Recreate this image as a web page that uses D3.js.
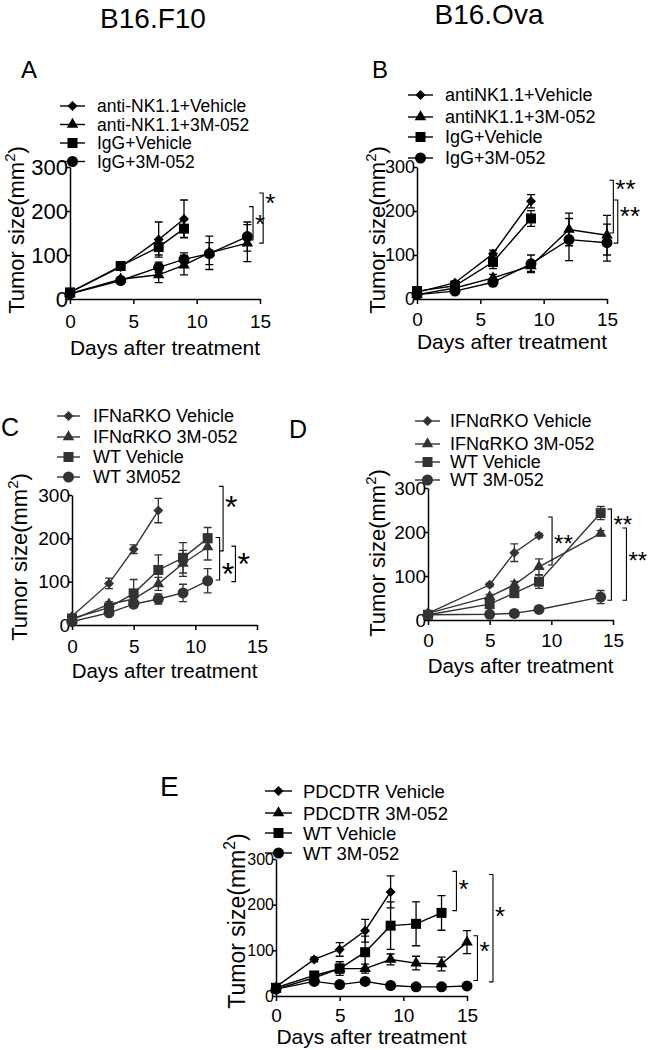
<!DOCTYPE html>
<html lang="en">
<head>
    <meta charset="UTF-8">
    <title>Tumor growth</title>
    <style>
        body { margin: 0; background: #fff; }
        text { font-family: "Liberation Sans", Arial, sans-serif; }
    </style>
</head>
<body>
<script src="https://d3js.org/d3.v7.min.js"></script>
<script>
    // shared ticks
    const xTicks = [0, 5, 10, 15];
    const yTicks = [0, 100, 200, 300];
    const shapes = ["diamond", "triangle", "square", "circle"];

    // Panel A - B16.F10, NK depletion
    const labelsA = ["anti-NK1.1+Vehicle", "anti-NK1.1+3M-052", "IgG+Vehicle", "IgG+3M-052"];
    const daysA = [0, 4, 7, 9, 11, 14];
    const meanA1 = [15, 73, 135, 182];
    const semA1 = [4, 6, 40, 43];
    const meanA2 = [12, 45, 55, 77, 105, 127];
    const semA2 = [3, 5, 18, 22, 38, 42];
    const meanA3 = [15, 75, 118, 160];
    const semA3 = [4, 6, 18, 20];
    const meanA4 = [12, 42, 72, 90, 103, 142];
    const semA4 = [3, 4, 12, 15, 25, 33];
    const starsA = [
        {x: 14.45, y1: 210, y2: 134, text: "*", ly: 184},
        {x: 15.25, y1: 241, y2: 127, text: "*", ly: 232}
    ];

    // Panel B - B16.Ova, NK depletion
    const labelsB = ["antiNK1.1+Vehicle", "antiNK1.1+3M-052", "IgG+Vehicle", "IgG+3M-052"];
    const daysB = [0, 3, 6, 9, 12, 15];
    const meanB1 = [15, 37, 103, 222];
    const semB1 = [3, 4, 8, 15];
    const meanB2 = [10, 25, 48, 75, 158, 145];
    const semB2 = [3, 4, 8, 12, 37, 45];
    const meanB3 = [18, 30, 84, 183];
    const semB3 = [3, 4, 15, 18];
    const meanB4 = [10, 18, 38, 80, 135, 128];
    const semB4 = [3, 3, 6, 20, 48, 42];
    const starsB = [
        {x: 15.5, y1: 270, y2: 150, text: "**", ly: 264},
        {x: 15.85, y1: 225, y2: 127, text: "**", ly: 202}
    ];

    // Panel C - B16.F10, IFNaR KO
    const labelsC = ["IFNaRKO Vehicle", "IFN\u03b1RKO 3M-052", "WT Vehicle", "WT 3M052"];
    const daysC = [0, 3, 5, 7, 9, 11];
    const meanC1 = [20, 96, 175, 264];
    const semC1 = [3, 12, 10, 28];
    const meanC2 = [12, 48, 60, 95, 142, 180];
    const semC2 = [3, 6, 8, 15, 30, 30];
    const meanC3 = [15, 40, 73, 127, 155, 200];
    const semC3 = [3, 8, 32, 35, 35, 25];
    const meanC4 = [8, 28, 48, 60, 74, 102];
    const semC4 = [2, 5, 8, 12, 20, 28];
    const starsC = [
        {x: 12.25, y1: 320, y2: 171, text: "*", ly: 288},
        {x: 11.97, y1: 202, y2: 104, text: "*", ly: 135},
        {x: 13.25, y1: 182, y2: 100, text: "*", ly: 158}
    ];

    // Panel D - B16.Ova, IFNaR KO
    const labelsD = ["IFN\u03b1RKO Vehicle", "IFN\u03b1RKO 3M-052", "WT Vehicle", "WT 3M-052"];
    const daysD = [0, 5, 7, 9, 14];
    const meanD1 = [15, 80, 153, 192];
    const semD1 = [3, 4, 20, 5];
    const meanD2 = [15, 53, 80, 121, 197];
    const semD2 = [3, 5, 8, 18, 6];
    const meanD3 = [12, 36, 61, 87, 243];
    const semD3 = [3, 6, 8, 15, 15];
    const meanD4 = [12, 13, 15, 24, 52];
    const semD4 = [2, 2, 3, 4, 15];
    const starsD = [
        {x: 10.06, y1: 234, y2: 125, text: "**", ly: 186},
        {x: 14.87, y1: 252, y2: 45, text: "**", ly: 228},
        {x: 16.09, y1: 209, y2: 45, text: "**", ly: 148}
    ];

    // Panel E - PDC depletion
    const labelsE = ["PDCDTR Vehicle", "PDCDTR 3M-052", "WT Vehicle", "WT 3M-052"];
    const daysE = [0, 3, 5, 7, 9, 11, 13, 15];
    const meanE1 = [20, 80, 102, 143, 228];
    const semE1 = [3, 5, 15, 25, 35];
    const meanE2 = [15, 40, 60, 60, 80, 72, 70, 118];
    const semE2 = [3, 5, 10, 10, 12, 15, 15, 25];
    const meanE3 = [18, 45, 60, 96, 154, 158, 182];
    const semE3 = [3, 5, 15, 35, 52, 48, 38];
    const meanE4 = [15, 32, 25, 32, 23, 20, 20, 22];
    const semE4 = [2, 4, 3, 5, 3, 2, 2, 3];
    const starsE = [
        {x: 14.17, y1: 273, y2: 187, text: "*", ly: 248},
        {x: 17.04, y1: 266, y2: 31, text: "*", ly: 189},
        {x: 15.82, y1: 132, y2: 34, text: "*", ly: 112}
    ];

    const svg = d3.select("body").append("svg")
        .attr("width", 652)
        .attr("height", 1050);

    // column titles
    svg.append("text").attr("x", 153).attr("y", 28).attr("text-anchor", "middle")
        .style("font-size", "28px").text("B16.F10");
    svg.append("text").attr("x", 489).attr("y", 24).attr("text-anchor", "middle")
        .style("font-size", "28px").text("B16.Ova");

    function symbolPath(shape) {
        if (shape === "diamond") return d3.symbol(d3.symbolSquare, 50)();
        if (shape === "triangle") return d3.symbol(d3.symbolTriangle, 58)();
        if (shape === "square") return d3.symbol(d3.symbolSquare, 100)();
        return d3.symbol(d3.symbolCircle, 95)();
    }
    function symbolRotate(shape) {
        return shape === "diamond" ? " rotate(45)" : "";
    }

    function drawPanel(p) {
        const x = d3.scaleLinear().domain([0, 15]).range([p.x0, p.x1]);
        const y = d3.scaleLinear().domain([0, 300]).range([p.y0, p.yTop]);
        const g = svg.append("g");

        // panel letter
        g.append("text").attr("x", p.letterX).attr("y", p.letterY)
            .style("font-size", p.letterFs + "px").text(p.letter);

        // axes
        const xAxis = g.append("g")
            .attr("transform", "translate(0," + p.y0 + ")")
            .call(d3.axisBottom(x).tickValues(xTicks).tickSize(5).tickSizeOuter(0)
                .tickPadding(p.xTickBase - p.y0 - 5 - 0.71 * p.xTickFs));
        xAxis.selectAll("text").style("font-size", p.xTickFs + "px")
            .style("font-family", "Liberation Sans, Arial, sans-serif").attr("fill", "#000");

        const yAxis = g.append("g")
            .attr("transform", "translate(" + p.x0 + ",0)")
            .call(d3.axisLeft(y).tickValues(yTicks).tickSize(4).tickSizeOuter(0).tickPadding(-2));
        yAxis.selectAll("text").style("font-size", p.yTickFs + "px")
            .style("font-family", "Liberation Sans, Arial, sans-serif").attr("fill", "#000");

        [xAxis, yAxis].forEach(a => {
            a.select(".domain").attr("stroke", "#000").attr("stroke-width", 1.5);
            a.selectAll(".tick line").attr("stroke", "#000").attr("stroke-width", 1.5);
        });

        // axis titles
        g.append("text")
            .attr("x", (p.x0 + p.x1) / 2).attr("y", p.xTitleBase)
            .attr("text-anchor", "middle").style("font-size", p.xTitleFs + "px")
            .text("Days after treatment");

        const yt = g.append("text")
            .attr("transform", "translate(" + p.yTitleX + "," + p.yTitleY + ") rotate(-90)")
            .attr("text-anchor", "middle").style("font-size", p.yTitleFs + "px");
        yt.append("tspan").text("Tumor size(mm");
        yt.append("tspan").attr("dy", -0.42 * p.yTitleFs).style("font-size", (0.68 * p.yTitleFs) + "px").text("2");
        yt.append("tspan").attr("dy", 0.42 * p.yTitleFs).text(")");

        // series
        p.series.forEach((s, i) => {
            const pts = s.mean.map((m, k) => ({d: p.days[k], m: m, e: s.sem[k]}));
            const sg = g.append("g");

            // error bars
            sg.selectAll(".err").data(pts).enter().append("path")
                .attr("fill", "none").attr("stroke", p.color).attr("stroke-width", 1.3)
                .attr("d", d => {
                    const cx = x(d.d), hi = y(d.m + d.e), lo = y(Math.max(0, d.m - d.e));
                    return "M" + (cx - 4) + "," + hi + "H" + (cx + 4) +
                        "M" + cx + "," + hi + "V" + lo +
                        "M" + (cx - 4) + "," + lo + "H" + (cx + 4);
                });

            sg.append("path").datum(pts)
                .attr("fill", "none").attr("stroke", p.color).attr("stroke-width", 1.4)
                .attr("d", d3.line().x(d => x(d.d)).y(d => y(d.m)));

            sg.selectAll(".mk").data(pts).enter().append("path")
                .attr("fill", p.color)
                .attr("transform", d => "translate(" + x(d.d) + "," + y(d.m) + ")" + symbolRotate(shapes[i]))
                .attr("d", symbolPath(shapes[i]));
        });

        // legend
        p.labels.forEach((lab, i) => {
            const ly = p.legY[i];
            g.append("line").attr("x1", p.legX0).attr("x2", p.legX1)
                .attr("y1", ly).attr("y2", ly)
                .attr("stroke", p.color).attr("stroke-width", 1.4);
            g.append("path").attr("fill", p.color)
                .attr("transform", "translate(" + ((p.legX0 + p.legX1) / 2) + "," + ly + ")" + symbolRotate(shapes[i]))
                .attr("d", symbolPath(shapes[i]));
            g.append("text").attr("x", p.legTx).attr("y", ly + 0.36 * p.legFs)
                .style("font-size", p.legFs + "px").text(lab);
        });

        // significance brackets
        p.stars.forEach(b => {
            const bx = x(b.x);
            g.append("path").attr("fill", "none").attr("stroke", "#000").attr("stroke-width", 1.1)
                .attr("d", "M" + (bx - 4) + "," + y(b.y1) + "H" + bx + "V" + y(b.y2) + "H" + (bx - 4));
            g.append("text").attr("x", bx + 2).attr("y", y(b.ly) + 0.57 * p.starFs)
                .style("font-size", p.starFs + "px").text(b.text);
        });
    }

    drawPanel({
        letter: "A", letterX: 21, letterY: 78, letterFs: 24,
        x0: 70, x1: 260, y0: 299, yTop: 167, color: "#000",
        xTickFs: 19, xTickBase: 328, yTickFs: 22,
        xTitleFs: 21, xTitleBase: 355, yTitleFs: 22, yTitleX: 24, yTitleY: 230,
        legX0: 60, legX1: 85, legTx: 97, legY: [106, 124.5, 143, 161.5], legFs: 17.5, starFs: 26,
        labels: labelsA, days: daysA, stars: starsA,
        series: [{mean: meanA1, sem: semA1}, {mean: meanA2, sem: semA2},
                 {mean: meanA3, sem: semA3}, {mean: meanA4, sem: semA4}]
    });

    drawPanel({
        letter: "B", letterX: 372, letterY: 78, letterFs: 24,
        x0: 417, x1: 607, y0: 299, yTop: 167, color: "#000",
        xTickFs: 19, xTickBase: 326, yTickFs: 18,
        xTitleFs: 21, xTitleBase: 349, yTitleFs: 22, yTitleX: 385, yTitleY: 230,
        legX0: 408, legX1: 433, legTx: 445, legY: [95, 117, 137, 158], legFs: 18, starFs: 26,
        labels: labelsB, days: daysB, stars: starsB,
        series: [{mean: meanB1, sem: semB1}, {mean: meanB2, sem: semB2},
                 {mean: meanB3, sem: semB3}, {mean: meanB4, sem: semB4}]
    });

    drawPanel({
        letter: "C", letterX: 1, letterY: 436, letterFs: 25,
        x0: 72, x1: 257, y0: 625, yTop: 495, color: "#333",
        xTickFs: 19, xTickBase: 653, yTickFs: 19,
        xTitleFs: 20.5, xTitleBase: 678, yTitleFs: 22, yTitleX: 27, yTitleY: 557,
        legX0: 57, legX1: 80, legTx: 93, legY: [416, 437, 457, 477], legFs: 18, starFs: 32,
        labels: labelsC, days: daysC, stars: starsC,
        series: [{mean: meanC1, sem: semC1}, {mean: meanC2, sem: semC2},
                 {mean: meanC3, sem: semC3}, {mean: meanC4, sem: semC4}]
    });

    drawPanel({
        letter: "D", letterX: 289, letterY: 438, letterFs: 25,
        x0: 428, x1: 613, y0: 620, yTop: 488, color: "#333",
        xTickFs: 19, xTickBase: 647, yTickFs: 19,
        xTitleFs: 20.5, xTitleBase: 673, yTitleFs: 22, yTitleX: 385, yTitleY: 553,
        legX0: 415, legX1: 440, legTx: 450, legY: [421, 444, 462, 480], legFs: 18, starFs: 24,
        labels: labelsD, days: daysD, stars: starsD,
        series: [{mean: meanD1, sem: semD1}, {mean: meanD2, sem: semD2},
                 {mean: meanD3, sem: semD3}, {mean: meanD4, sem: semD4}]
    });

    drawPanel({
        letter: "E", letterX: 160, letterY: 796, letterFs: 28,
        x0: 276, x1: 467, y0: 996, yTop: 859, color: "#000",
        xTickFs: 19, xTickBase: 1022, yTickFs: 16,
        xTitleFs: 21, xTitleBase: 1044, yTitleFs: 23, yTitleX: 245, yTitleY: 921,
        legX0: 265, legX1: 292, legTx: 303, legY: [791, 813, 833, 853], legFs: 18.5, starFs: 26,
        labels: labelsE, days: daysE, stars: starsE,
        series: [{mean: meanE1, sem: semE1}, {mean: meanE2, sem: semE2},
                 {mean: meanE3, sem: semE3}, {mean: meanE4, sem: semE4}]
    });
</script>
</body>
</html>
